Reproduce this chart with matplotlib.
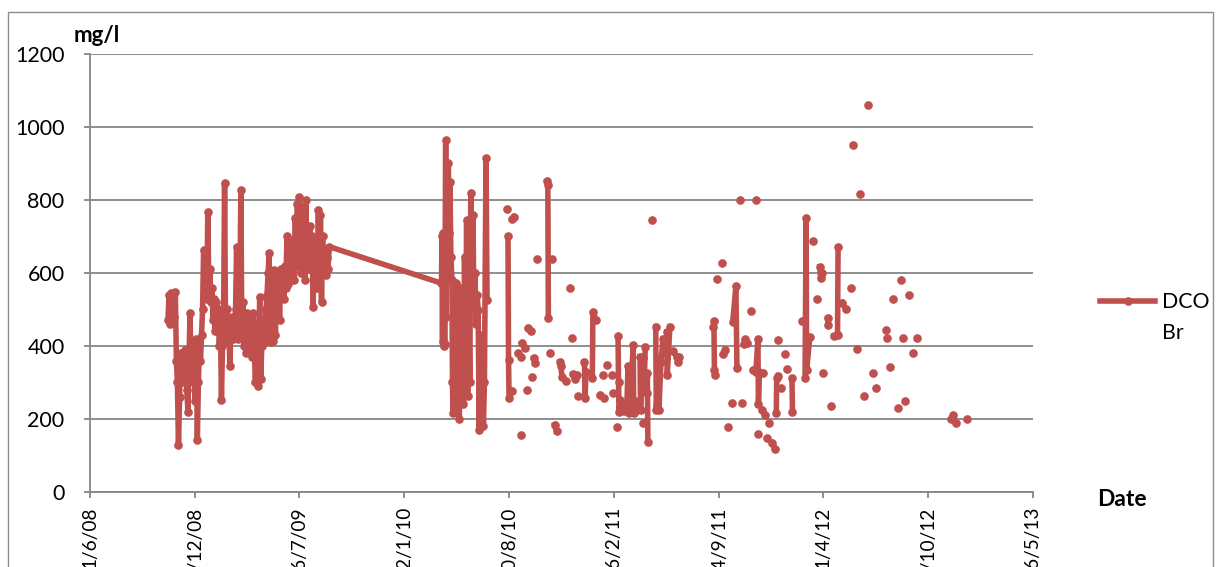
import numpy as np
import pandas as pd
import matplotlib
matplotlib.use('Agg')
import matplotlib.pyplot as plt
import matplotlib.dates as mdates
from matplotlib.ticker import FuncFormatter
from matplotlib.patches import Rectangle

plt.rcParams['font.family'] = ['Lato', 'DejaVu Sans']

# daily monitoring Oct 2008 - Sep 2009 (one continuous run)
dates_0809 = [
    '2008-10-28', '2008-10-30', '2008-11-01', '2008-11-03', '2008-11-05', '2008-11-07', '2008-11-09', '2008-11-11',
    '2008-11-13', '2008-11-15', '2008-11-17', '2008-11-19', '2008-11-21', '2008-11-23', '2008-11-25', '2008-11-27',
    '2008-11-29', '2008-12-01', '2008-12-03', '2008-12-05', '2008-12-07', '2008-12-09', '2008-12-11', '2008-12-13',
    '2008-12-15', '2008-12-17', '2008-12-19', '2008-12-21', '2008-12-23', '2008-12-25', '2008-12-27', '2008-12-29',
    '2008-12-31', '2009-01-02', '2009-01-04', '2009-01-06', '2009-01-08', '2009-01-10', '2009-01-12', '2009-01-14',
    '2009-01-16', '2009-01-18', '2009-01-20', '2009-01-22', '2009-01-24', '2009-01-26', '2009-01-28', '2009-01-30',
    '2009-02-01', '2009-02-03', '2009-02-05', '2009-02-07', '2009-02-09', '2009-02-11', '2009-02-13', '2009-02-15',
    '2009-02-17', '2009-02-19', '2009-02-21', '2009-02-23', '2009-02-25', '2009-02-27', '2009-03-01', '2009-03-03',
    '2009-03-06', '2009-03-08', '2009-03-10', '2009-03-12', '2009-03-14', '2009-03-16', '2009-03-18', '2009-03-20',
    '2009-03-22', '2009-03-24', '2009-03-26', '2009-03-28', '2009-03-30', '2009-04-01', '2009-04-03', '2009-04-05',
    '2009-04-07', '2009-04-09', '2009-04-11', '2009-04-13', '2009-04-15', '2009-04-17', '2009-04-19', '2009-04-21',
    '2009-04-23', '2009-04-25', '2009-04-27', '2009-04-29', '2009-05-01', '2009-05-03', '2009-05-05', '2009-05-07',
    '2009-05-09', '2009-05-11', '2009-05-13', '2009-05-15', '2009-05-17', '2009-05-19', '2009-05-21', '2009-05-23',
    '2009-05-25', '2009-05-27', '2009-05-29', '2009-05-31', '2009-06-02', '2009-06-04', '2009-06-06', '2009-06-08',
    '2009-06-10', '2009-06-12', '2009-06-14', '2009-06-16', '2009-06-18', '2009-06-20', '2009-06-22', '2009-06-24',
    '2009-06-26', '2009-06-28', '2009-06-30', '2009-07-02', '2009-07-04', '2009-07-06', '2009-07-08', '2009-07-10',
    '2009-07-12', '2009-07-14', '2009-07-16', '2009-07-18', '2009-07-20', '2009-07-22', '2009-07-24', '2009-07-26',
    '2009-07-28', '2009-07-30', '2009-08-01', '2009-08-03', '2009-08-05', '2009-08-07', '2009-08-09', '2009-08-11',
    '2009-08-13', '2009-08-15', '2009-08-17', '2009-08-19', '2009-08-21', '2009-08-23', '2009-08-25', '2009-08-27',
    '2009-08-29', '2009-09-01',
]
dco_0809 = [
    470, 540, 460, 545, 500, 530, 480, 548,
    360, 300, 128, 260, 380, 300, 370, 320,
    390, 330, 280, 220, 360, 490, 330, 400,
    300, 380, 250, 420, 143, 300, 410, 360,
    430, 500, 663, 560, 640, 530, 768, 540,
    610, 520, 560, 470, 530, 440, 520, 460,
    500, 400, 470, 252, 400, 460, 846, 410,
    500, 430, 470, 344, 450, 480, 420, 440,
    500, 672, 420, 600, 460, 827, 430, 520,
    400, 470, 380, 490, 420, 480, 400, 460,
    370, 490, 380, 300, 460, 289, 350, 535,
    310, 400, 470, 430, 410, 500, 540, 600,
    654, 450, 412, 560, 415, 608, 430, 600,
    520, 580, 470, 610, 560, 590, 530, 620,
    560, 700, 570, 640, 580, 660, 600, 690,
    580, 750, 620, 790, 640, 809, 600, 780,
    650, 720, 580, 800, 640, 700, 610, 730,
    660, 700, 508, 650, 600, 680, 560, 773,
    600, 760, 520, 700, 620, 660, 595, 640,
    610, 672,
]

# spring 2010 campaign (joined to the 2009 run by the chart line)
dates_2010 = [
    '2010-04-03', '2010-04-04', '2010-04-05', '2010-04-06', '2010-04-07', '2010-04-08', '2010-04-09', '2010-04-10',
    '2010-04-11', '2010-04-12', '2010-04-13', '2010-04-15', '2010-04-16', '2010-04-18', '2010-04-19', '2010-04-21',
    '2010-04-23', '2010-04-24', '2010-04-25', '2010-04-27', '2010-04-29', '2010-05-01', '2010-05-03', '2010-05-05',
    '2010-05-07', '2010-05-09', '2010-05-11', '2010-05-13', '2010-05-15', '2010-05-17', '2010-05-19', '2010-05-21',
    '2010-05-23', '2010-05-25', '2010-05-27', '2010-05-29', '2010-05-31', '2010-06-02', '2010-06-04', '2010-06-06',
    '2010-06-08', '2010-06-10', '2010-06-12', '2010-06-14', '2010-06-16', '2010-06-18', '2010-06-20', '2010-06-22',
    '2010-06-24', '2010-06-27', '2010-06-29',
]
dco_2010 = [
    572, 700, 410, 710, 400, 690, 405, 640,
    964, 480, 850, 640, 900, 709, 850, 645,
    581, 300, 216, 520, 300, 572, 220, 500,
    200, 560, 330, 520, 240, 645, 335, 745,
    262, 520, 300, 818, 535, 759, 500, 600,
    460, 540, 499, 170, 430, 200, 380, 180,
    300, 914, 526,
]

# sparse sampling Aug 2010 - Dec 2012, None = missing sample (breaks the line)
dates_late = [
    None, '2010-08-06',
    None, '2010-08-08', '2010-08-09', '2010-08-10', '2010-08-15',
    None, '2010-08-16', '2010-08-19',
    None, '2010-08-27', '2010-09-01',
    None, '2010-09-02',
    None, '2010-09-03', '2010-09-09',
    None, '2010-09-13',
    None, '2010-09-15', '2010-09-21',
    None, '2010-09-22',
    None, '2010-09-26', '2010-09-29',
    None, '2010-10-02',
    None, '2010-10-21', '2010-10-23', '2010-10-24',
    None, '2010-10-27',
    None, '2010-10-31',
    None, '2010-11-05', '2010-11-09',
    None, '2010-11-15', '2010-11-17', '2010-11-19', '2010-11-26',
    None, '2010-12-04',
    None, '2010-12-08',
    None, '2010-12-10', '2010-12-14', '2010-12-17',
    None, '2010-12-19',
    None, '2011-01-01', '2011-01-02', '2011-01-04',
    None, '2011-01-16', '2011-01-17', '2011-01-23',
    None, '2011-01-31', '2011-02-08',
    None, '2011-02-05',
    None, '2011-02-13',
    None, '2011-02-22',
    None, '2011-02-24',
    None, '2011-03-04',
    None, '2011-03-06', '2011-03-07', '2011-03-08', '2011-03-10', '2011-03-14', '2011-03-18', '2011-03-23',
    '2011-03-25', '2011-03-26', '2011-03-29', '2011-04-04', '2011-04-05', '2011-04-08', '2011-04-11',
    None, '2011-04-17', '2011-04-18', '2011-04-22', '2011-04-25', '2011-04-27',
    None, '2011-04-23',
    None, '2011-04-30', '2011-05-01', '2011-05-02',
    None, '2011-05-10',
    None, '2011-05-17', '2011-05-18', '2011-05-22', '2011-05-23', '2011-05-27', '2011-05-31',
    None, '2011-06-07', '2011-06-08', '2011-06-13',
    None, '2011-06-19', '2011-06-26',
    None, '2011-06-28', '2011-06-30',
    None, '2011-09-04', '2011-09-05', '2011-09-06', '2011-09-07',
    None, '2011-09-11',
    None, '2011-09-20',
    None, '2011-09-22', '2011-09-26',
    None, '2011-10-02',
    None, '2011-10-09',
    None, '2011-10-11', '2011-10-17', '2011-10-19',
    None, '2011-10-25',
    None, '2011-10-29',
    None, '2011-11-01', '2011-11-03', '2011-11-07',
    None, '2011-11-15',
    None, '2011-11-24',
    None, '2011-11-19', '2011-11-24', '2011-11-28', '2011-11-29', '2011-12-01', '2011-12-08',
    None, '2011-11-28',
    None, '2011-12-06', '2011-12-12',
    None, '2011-12-15',
    None, '2011-12-19',
    None, '2011-12-25', '2011-12-31',
    None, '2012-01-02', '2012-01-03', '2012-01-05',
    None, '2012-01-05',
    None, '2012-01-11',
    None, '2012-01-19',
    None, '2012-01-22',
    None, '2012-02-01', '2012-02-02',
    None, '2012-02-20',
    None, '2012-02-26', '2012-02-28', '2012-02-29', '2012-03-06',
    None, '2012-03-12',
    None, '2012-03-20',
    None, '2012-03-25', '2012-03-27', '2012-03-30',
    None, '2012-03-31',
    None, '2012-04-09', '2012-04-10',
    None, '2012-04-16',
    None, '2012-04-21', '2012-04-28', '2012-04-29',
    None, '2012-05-07', '2012-05-14',
    None, '2012-05-24',
    None, '2012-05-27',
    None, '2012-06-04',
    None, '2012-06-10',
    None, '2012-06-17',
    None, '2012-06-25',
    None, '2012-07-05',
    None, '2012-07-10',
    None, '2012-07-29',
    None, '2012-07-31',
    None, '2012-08-06',
    None, '2012-08-12',
    None, '2012-08-21',
    None, '2012-08-27',
    None, '2012-08-31',
    None, '2012-09-04',
    None, '2012-09-11',
    None, '2012-09-19',
    None, '2012-09-27',
    None, '2012-12-01', '2012-12-04', '2012-12-10',
    None, '2012-12-31',
]
dco_late = [
    None, 775,
    None, 700, 362, 257, 278,
    None, 748, 754,
    None, 380, 371,
    None, 156,
    None, 408, 394,
    None, 280,
    None, 449, 440,
    None, 316,
    None, 367, 353,
    None, 638,
    None, 851, 842, 476,
    None, 382,
    None, 638,
    None, 184, 166,
    None, 357, 345, 315, 303,
    None, 560,
    None, 422,
    None, 324, 310, 321,
    None, 262,
    None, 356, 258, 330,
    None, 312, 492, 472,
    None, 266, 257,
    None, 321,
    None, 348,
    None, 321,
    None, 271,
    None, 179,
    None, 426, 300, 220, 252, 225, 222, 240,
    344, 216, 235, 403, 216, 250, 225,
    None, 371, 225, 366, 300, 398,
    None, 188,
    None, 271, 325, 138,
    None, 745,
    None, 453, 225, 325, 225, 357, 420,
    None, 438, 321, 453,
    None, 385, 371,
    None, 357, 371,
    None, 453, 469, 334, 321,
    None, 583,
    None, 626,
    None, 377, 389,
    None, 177,
    None, 243,
    None, 467, 564, 339,
    None, 800,
    None, 245,
    None, 405, 418, 407,
    None, 496,
    None, 800,
    None, 334, 328, 418, 241, 330, 327,
    None, 158,
    None, 225, 211,
    None, 147,
    None, 190,
    None, 135, 117,
    None, 216, 311, 318,
    None, 416,
    None, 285,
    None, 377,
    None, 337,
    None, 311, 218,
    None, 469,
    None, 313, 750, 334, 424,
    None, 688,
    None, 530,
    None, 617, 585, 601,
    None, 325,
    None, 476, 457,
    None, 235,
    None, 428, 430, 670,
    None, 519, 501,
    None, 558,
    None, 950,
    None, 391,
    None, 816,
    None, 263,
    None, 1060,
    None, 325,
    None, 286,
    None, 444,
    None, 421,
    None, 343,
    None, 530,
    None, 229,
    None, 581,
    None, 421,
    None, 250,
    None, 541,
    None, 380,
    None, 421,
    None, 199, 211, 188,
    None, 199,
]

tick_dates = ['2008-06-01', '2008-12-18', '2009-07-06', '2010-01-22', '2010-08-10',
              '2011-02-26', '2011-09-14', '2012-04-01', '2012-10-18', '2013-05-06']
y_ticks = [0, 200, 400, 600, 800, 1000, 1200]

assert len(dates_0809) == len(dco_0809)
assert len(dates_2010) == len(dco_2010)
assert len(dates_late) == len(dco_late)

dates = pd.to_datetime(dates_0809 + dates_2010 + dates_late).values
dco = np.array([np.nan if v is None else v for v in dco_0809 + dco_2010 + dco_late], dtype=float)

red = '#C0504D'
grey = '#868686'

fig = plt.figure(figsize=(12.22, 5.67), dpi=100)
ax = fig.add_axes([0.0736, 0.1323, 0.7717, 0.7725])

ax.plot(dates, dco, color=red, lw=4.0, marker='o', ms=5.2, mfc=red, mec=red,
        solid_joinstyle='round', label='DCO', zorder=3)

ax.set_ylim(0, 1200)
ax.set_yticks(y_ticks)
ax.set_xlim(pd.Timestamp(tick_dates[0]), pd.Timestamp(tick_dates[-1]))
ax.set_xticks(pd.to_datetime(tick_dates))


def fmt_date(v, pos):
    d = mdates.num2date(v)
    return f"{d.day}/{d.month}/{d:%y}"


ax.xaxis.set_major_formatter(FuncFormatter(fmt_date))
ax.grid(axis='y', color=grey, lw=1.3)
ax.set_axisbelow(True)
for s in ['top', 'right']:
    ax.spines[s].set_visible(False)
for s in ['left', 'bottom']:
    ax.spines[s].set_color(grey)
    ax.spines[s].set_linewidth(1.3)

ax.tick_params(axis='y', direction='out', length=4.3, width=1.3, color=grey,
               labelsize=15.5, pad=14)
ax.tick_params(axis='x', direction='out', length=4.3, width=1.3, color=grey,
               labelsize=13.7, pad=6.5, labelrotation=90)

fig.text(97 / 1222, 1 - 36 / 567, 'mg/l', ha='center', va='center', fontsize=16, fontweight='bold')
fig.text(1122 / 1222, 1 - 500 / 567, 'Date', ha='center', va='center', fontsize=16.5, fontweight='bold')

# legend: series name wraps onto a second line ("DCO" / "Br")
ax.legend(loc='center left', bbox_to_anchor=(1100 / 1222, 1 - 302 / 567), bbox_transform=fig.transFigure,
          frameon=False, fontsize=15.3, handlelength=2.6, handletextpad=0.3, borderpad=0,
          borderaxespad=0)
fig.text(1162 / 1222, 1 - 333 / 567, 'Br', ha='left', va='center', fontsize=15.3)

# chart area border (runs off the bottom edge)
fig.add_artist(Rectangle((8 / 1222, -0.05), 1205 / 1222, 1 - 12 / 567 + 0.05,
                         transform=fig.transFigure, fill=False, edgecolor='#8C8C8C', lw=1))

fig.savefig('out.png', dpi=100)
